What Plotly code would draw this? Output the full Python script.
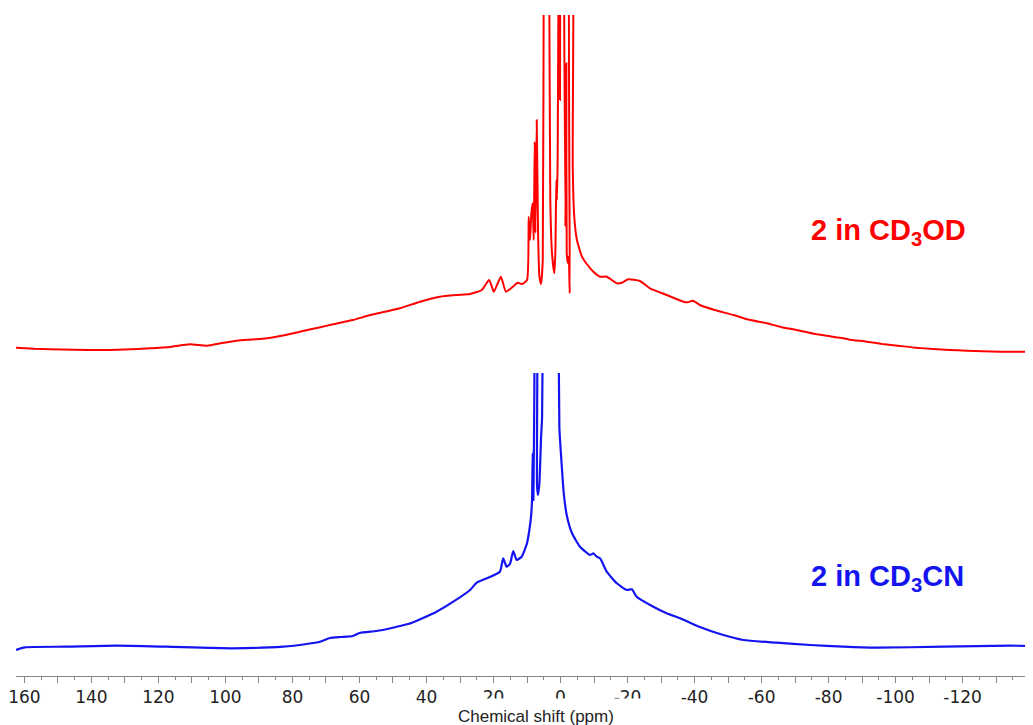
import plotly.graph_objects as go

# ---- data ----
red_ppm = [162.5, 157.0, 152.4, 145.0, 137.5, 130.0, 122.5, 116.0, 110.6, 105.5, 101.0, 96.6, 92.0,
           87.6, 82.0, 77.8, 72.0, 67.9, 62.0, 57.8, 52.0, 47.9,
           41.9, 36.0, 31.0, 27.0, 23.5, 21.3, 19.9, 17.8, 16.3, 14.2, 12.8, 11.5, 10.0,
           9.5, 9.1, 8.7, 8.3, 8.0, 7.7, 7.5, 7.1, 6.7, 6.3, 5.8, 5.3, 5.0, 4.0, 3.4,
           3.05, 2.55, 1.85, 1.55, 1.25, 1.05, 0.85, 0.55, 0.35, 0.15, 0.0, -0.25, -0.5,
           -0.7, -1.0, -1.45, -1.75, -1.85, -2.15, -2.45, -2.75, -3.05, -3.45, -3.65,
           -4.1, -4.9, -6.4, -7.6, -9.8, -11.8, -13.8, -16.8, -18.3, -20.2, -23.7, -26.7,
           -31.7, -36.7, -37.9, -39.5, -41.6, -46.0, -51.6, -56.0, -61.6, -66.0, -71.5, -76.0,
           -81.4, -86.0, -91.4, -96.0, -101.3, -106.0, -111.3, -116.0, -121.3, -126.0,
           -131.2, -136.0, -141.0]
red_int = [2.3, 1.2, 0.7, 0.3, 0.0, 0.6, 1.7, 3.3, 5.7, 4.3, 7.0, 9.3, 10.5,
           11.7, 15.0, 18.3, 22.5, 25.7, 30.0, 34.0, 38.5, 41.7,
           48.3, 53.3, 55.0, 56.0, 60.0, 70.0, 58.3, 73.3, 58.3, 63.3, 67.3, 66.0, 70.0,
           133.3, 110.0, 136.7, 146.7, 110.0, 208.3, 117.0, 230.0, 117.0, 73.3, 66.0, 90.0, 400.0, 600.0, 400.0,
           150.0, 97.0, 76.7, 97.0, 170.0, 150.0, 193.0, 420.0, 700.0, 250.0, 600.0, 800.0, 350.0,
           650.0, 400.0, 123.3, 286.7, 97.0, 87.0, 93.3, 56.7, 500.0, 500.0, 183.3,
           133.3, 110.0, 93.3, 87.0, 78.3, 73.3, 73.3, 66.7, 67.3, 70.7, 69.0, 61.7,
           55.0, 48.3, 47.7, 49.3, 45.0, 40.0, 35.0, 30.5, 26.7, 22.8, 19.3, 16.0,
           13.3, 10.6, 8.3, 6.0, 4.0, 2.3, 1.0, 0.0, -0.7, -1.3,
           -1.7, -1.7, -1.7]

blue_ppm = [162.5, 159.9, 147.4, 132.5, 117.6, 97.7, 82.7, 75.8, 71.8, 68.8, 65.5, 62.0,
            60.0, 55.0, 51.0, 47.9, 44.5, 41.9, 37.0, 32.0, 27.0, 25.0, 22.0, 18.1, 17.1, 16.1, 15.1,
            14.1, 13.1, 11.6, 10.0, 9.3, 8.8, 8.5, 8.3, 8.1, 7.8, 7.5, 7.2, 7.0, 6.7, 6.3,
            5.8, 5.5, 5.1, 3.0, 0.75, 0.35, -0.25, -0.95, -1.95, -3.45, -5.8, -8.8, -9.8,
            -10.8, -11.8, -13.8, -16.8, -19.8, -21.3, -22.7, -27.7, -31.5, -35.7, -41.6, -47.6,
            -54.6, -64.5, -74.5, -84.4, -94.4, -114.3, -134.2, -141.0]
blue_int = [-2.0, 0.7, 1.3, 2.3, 1.3, -0.3, 1.3, 4.0, 6.3, 10.0, 11.0, 12.0,
            15.0, 17.0, 19.5, 22.0, 25.0, 28.7, 36.3, 46.3, 58.0, 65.3, 69.7, 76.3, 89.7, 81.3, 84.0,
            97.0, 88.0, 91.3, 104.7, 118.0, 131.3, 148.0, 195.0, 148.0, 261.0, 400.0, 400.0, 161.0, 153.0, 165.0,
            211.0, 231.0, 400.0, 1200.0, 400.0, 221.0, 188.0, 155.0, 131.3, 114.7, 101.3, 93.0, 94.7,
            91.3, 89.7, 76.3, 64.7, 58.0, 58.7, 51.3, 41.3, 35.0, 29.7, 21.0, 14.0,
            8.0, 5.3, 3.0, 1.3, 0.3, 1.3, 2.3, 2.0]

tick_vals = list(range(160, -141, -10))
tick_text = [str(v) if v % 20 == 0 else "" for v in tick_vals]

red_label = "2 in CD<sub>3</sub>OD"
blue_label = "2 in CD<sub>3</sub>CN"
x_title = "Chemical shift (ppm)"

RED = "#ff0000"
BLUE = "#1414f0"

fig = go.Figure()
fig.add_trace(go.Scatter(x=red_ppm, y=red_int, mode="lines", xaxis="x", yaxis="y2",
                         line=dict(color=RED, width=2, shape="spline", smoothing=0.5),
                         showlegend=False, hoverinfo="skip"))
fig.add_trace(go.Scatter(x=blue_ppm, y=blue_int, mode="lines", xaxis="x", yaxis="y",
                         line=dict(color=BLUE, width=2.2, shape="spline", smoothing=0.5),
                         showlegend=False, hoverinfo="skip"))

# the page body adds an 8px offset, so the figure is 8px smaller and everything sits 8px up/left
PLOT_H = 661
split = 303 / PLOT_H


def py(px):  # reference pixel row -> paper y
    return (676 - px) / PLOT_H


def px_(x):  # reference pixel column -> paper x
    return (x - 16) / 1017


fig.update_layout(
    width=1025, height=717,
    margin=dict(l=8, r=0, t=7, b=49, autoexpand=False),
    paper_bgcolor="white", plot_bgcolor="white",
    xaxis=dict(range=[162.5, -141.0], showgrid=False, zeroline=False, automargin=False,
               showline=True, linecolor="#8a8a8a", linewidth=1,
               tickmode="array", tickvals=tick_vals, ticktext=tick_text,
               ticks="outside", ticklen=6, tickcolor="#8a8a8a", tickwidth=1,
               tickfont=dict(family="DejaVu Sans", size=17, color="#222222"),
               minor=dict(tickmode="linear", tick0=0, dtick=5, ticks="outside",
                          ticklen=3, tickcolor="#8a8a8a", tickwidth=1, showgrid=False),
               anchor="y"),
    yaxis=dict(domain=[0, split], range=[-28, 275], visible=False, fixedrange=True),
    yaxis2=dict(domain=[split, 1], range=[-23, 335], visible=False, fixedrange=True, anchor="x"),
    annotations=[
        dict(text="<b>" + red_label + "</b>", xref="paper", yref="paper",
             x=px_(888), y=py(232),
             showarrow=False, font=dict(family="Liberation Sans", size=29, color=RED),
             xanchor="center", yanchor="middle"),
        dict(text="<b>" + blue_label + "</b>", xref="paper", yref="paper",
             x=px_(887), y=py(578),
             showarrow=False, font=dict(family="Liberation Sans", size=29, color=BLUE),
             xanchor="center", yanchor="middle"),
        dict(text=x_title, xref="paper", yref="paper", x=px_(457), y=py(698),
             showarrow=False, font=dict(family="Liberation Sans", size=17, color="#222222"),
             xanchor="left", yanchor="top", bgcolor="white", width=192, height=35,
             align="left", valign="middle", borderpad=0),
    ],
)

fig.write_html("out.html")
